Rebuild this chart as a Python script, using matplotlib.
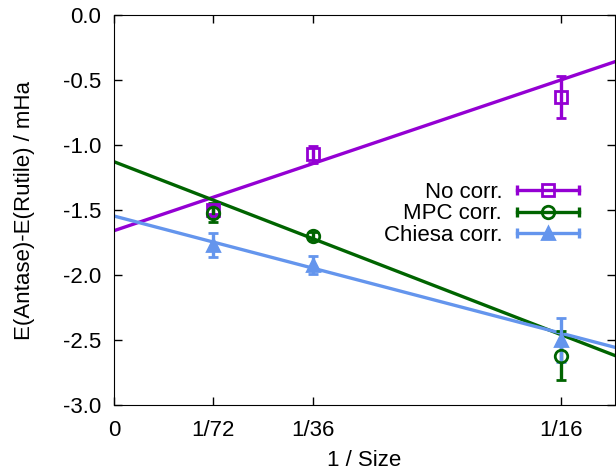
import numpy as np
import matplotlib
matplotlib.use("Agg")
import matplotlib.pyplot as plt
from matplotlib.legend_handler import HandlerBase
from matplotlib.lines import Line2D
from matplotlib.ticker import FormatStrFormatter

plt.rcParams['font.family'] = ['Liberation Sans', 'DejaVu Sans']

# data
inv_size = [1/72, 1/36, 1/16]
size_labels = ["0", "1/72", "1/36", "1/16"]
size_ticks = [0, 1/72, 1/36, 1/16]

no_corr = [-1.50, -1.07, -0.63]
no_corr_err = [0.03, 0.065, 0.165]
mpc_corr = [-1.52, -1.70, -2.62]
mpc_corr_err = [0.075, 0.03, 0.19]
chiesa_corr = [-1.77, -1.92, -2.50]
chiesa_corr_err = [0.09, 0.07, 0.17]

# linear fits (intercept, slope) as drawn in the figure
no_corr_fit = (-1.659, 18.57)
mpc_corr_fit = (-1.128, -21.3)
chiesa_corr_fit = (-1.546, -14.43)

series = [
    ("No corr.", no_corr, no_corr_err, no_corr_fit, "#9400d3", "s", "none"),
    ("MPC corr.", mpc_corr, mpc_corr_err, mpc_corr_fit, "#006400", "o", "none"),
    ("Chiesa corr.", chiesa_corr, chiesa_corr_err, chiesa_corr_fit, "#6495ed", "^", "#6495ed"),
]

FS = 16


class HandlerErrLine(HandlerBase):
    """gnuplot style key sample: line with end caps and a marker in the middle"""
    def __init__(self, color, marker, mfc):
        super().__init__()
        self.color, self.marker, self.mfc = color, marker, mfc

    def create_artists(self, legend, orig_handle, xdescent, ydescent,
                       width, height, fontsize, trans):
        y = height / 2 - ydescent
        x0, x1 = -xdescent, width - xdescent
        line = Line2D([x0, x1], [y, y], color=self.color, lw=2.4, transform=trans)
        caps = Line2D([x0, x1], [y, y], ls="none", marker="|", ms=7, mew=2.4,
                      color=self.color, transform=trans)
        mk = Line2D([(x0 + x1) / 2], [y], ls="none", marker=self.marker, ms=9,
                    mew=2, mfc=self.mfc, mec=self.color, transform=trans)
        return [line, caps, mk]


fig = plt.figure(figsize=(6.16, 4.72), dpi=100)
ax = fig.add_axes([0.185, 0.142, 0.813, 0.826])

xfit = np.linspace(0, 0.07, 50)
handles, handler_map = [], {}
for label, y, err, (a, b), color, marker, mfc in series:
    ax.plot(xfit, a + b * xfit, color=color, lw=2.4, zorder=2)
    ax.errorbar(inv_size, y, yerr=err, fmt=marker, color=color, ms=9, mew=2,
                mfc=mfc, mec=color, elinewidth=2.4, capsize=3.5, capthick=2.4,
                zorder=3)
    h = Line2D([], [], color=color)
    handles.append(h)
    handler_map[h] = HandlerErrLine(color, marker, mfc)

ax.set_xlim(0, 0.07)
ax.set_ylim(-3.0, 0.0)
ax.set_xticks(size_ticks)
ax.set_xticklabels(size_labels)
ax.set_yticks(np.arange(-3.0, 0.01, 0.5))
ax.yaxis.set_major_formatter(FormatStrFormatter('%.1f'))
ax.tick_params(direction='in', length=6, width=1, top=True, right=True,
               labelsize=FS, pad=9)
ax.tick_params(axis='x', pad=11)
ax.set_xlabel("1 / Size", fontsize=FS, labelpad=6)
ax.set_ylabel("E(Antase)-E(Rutile) / mHa", fontsize=FS, labelpad=20)

ax.legend(handles, [s[0] for s in series], handler_map=handler_map,
          loc="center right", bbox_to_anchor=(0.946, 0.49), frameon=False,
          markerfirst=False, handlelength=2.8, handletextpad=0.65,
          labelspacing=0.03, fontsize=FS, borderaxespad=0)

fig.savefig("out.png", dpi=100)
